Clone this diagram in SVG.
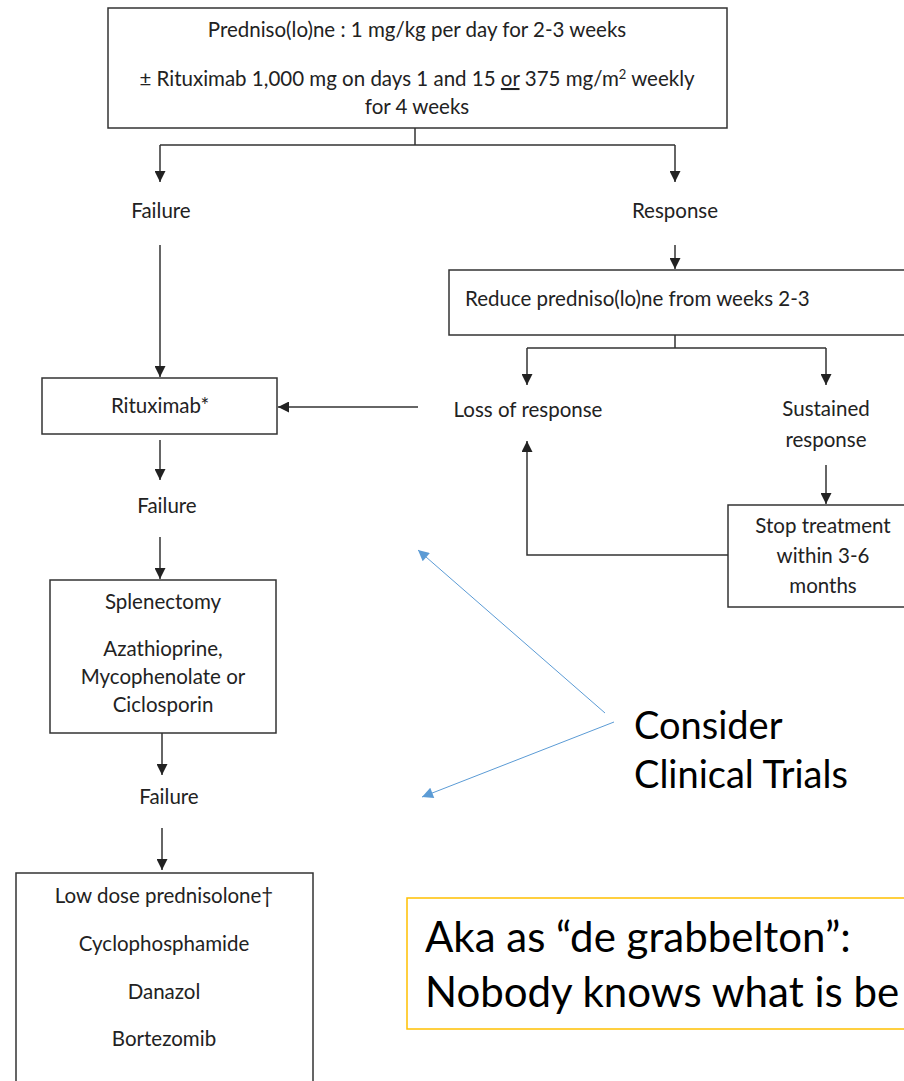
<svg xmlns="http://www.w3.org/2000/svg" width="904" height="1081" viewBox="0 0 904 1081">
<style>
.box{fill:#fff;stroke:#333;stroke-width:1.5}
.t{font-family:Lato,"Open Sans","Liberation Sans",sans-serif;font-size:20.5px;fill:#222;text-anchor:middle}
.tl{font-family:Lato,"Open Sans","Liberation Sans",sans-serif;font-size:20.5px;fill:#222}
.c{fill:none;stroke:#333;stroke-width:1.5}
.b{fill:none;stroke:#5B9BD5;stroke-width:1}
.big{font-family:Lato,"Open Sans","Liberation Sans",sans-serif;font-size:38px;fill:#000}
.note{font-family:Lato,"Open Sans","Liberation Sans",sans-serif;font-size:42px;fill:#000}
</style>
<defs>
<marker id="ah" viewBox="0 0 10 10" refX="10" refY="5" markerWidth="13" markerHeight="11" markerUnits="userSpaceOnUse" orient="auto"><path d="M0,0 L10,5 L0,10 z" fill="#222"/></marker>
<marker id="bh" viewBox="0 0 10 10" refX="10" refY="5" markerWidth="14" markerHeight="11" markerUnits="userSpaceOnUse" orient="auto"><path d="M0,0 L10,5 L0,10 z" fill="#5B9BD5"/></marker>
</defs>
<rect width="904" height="1081" fill="#fff"/>
<g id="connectors">
<path class="c" d="M415,128 V145 M160,145 H675"/>
<path class="c" d="M160,145 V182" marker-end="url(#ah)"/>
<path class="c" d="M675,145 V182" marker-end="url(#ah)"/>
<path class="c" d="M160,245 V377" marker-end="url(#ah)"/>
<path class="c" d="M675,245 V269" marker-end="url(#ah)"/>
<path class="c" d="M675,320 V348 M527,348 H826"/>
<path class="c" d="M527,348 V385" marker-end="url(#ah)"/>
<path class="c" d="M826,348 V385" marker-end="url(#ah)"/>
<path class="c" d="M418,407 H278" marker-end="url(#ah)"/>
<path class="c" d="M160,440 V480" marker-end="url(#ah)"/>
<path class="c" d="M160,537 V579" marker-end="url(#ah)"/>
<path class="c" d="M826,465 V504" marker-end="url(#ah)"/>
<path class="c" d="M728,555 H527 V441" marker-end="url(#ah)"/>
<path class="c" d="M162,733 V775" marker-end="url(#ah)"/>
<path class="c" d="M162,828 V870" marker-end="url(#ah)"/>
<path class="b" d="M605,713 L418,550" marker-end="url(#bh)"/>
<path class="b" d="M614,722 L422,797" marker-end="url(#bh)"/>
</g>
<g id="n-start">
<rect class="box" x="108" y="8" width="619" height="120"/>
<text class="t" x="417" y="37">Predniso(lo)ne : 1 mg/kg per day for 2-3 weeks</text>
<text class="t" x="417" y="86">± Rituximab 1,000 mg on days 1 and 15 <tspan text-decoration="underline">or</tspan> 375 mg/m<tspan font-size="13" dy="-7">2</tspan><tspan dy="7"> weekly</tspan></text>
<text class="t" x="417" y="114">for 4 weeks</text>
</g>
<g id="n-failure1"><text class="t" x="161" y="218">Failure</text></g>
<g id="n-response"><text class="t" x="675" y="218">Response</text></g>
<g id="n-reduce">
<rect class="box" x="449" y="270" width="470" height="65"/>
<text class="tl" x="465" y="306">Reduce predniso(lo)ne from weeks 2-3</text>
</g>
<g id="n-rituximab">
<rect class="box" x="42" y="378" width="235" height="56"/>
<text class="t" x="160" y="413">Rituximab*</text>
</g>
<g id="n-loss"><text class="t" x="528" y="417">Loss of response</text></g>
<g id="n-sustained">
<text class="t" x="826" y="416">Sustained</text>
<text class="t" x="826" y="447">response</text>
</g>
<g id="n-stop">
<rect class="box" x="728" y="505" width="190" height="102"/>
<text class="t" x="823" y="533">Stop treatment</text>
<text class="t" x="823" y="563">within 3-6</text>
<text class="t" x="823" y="593">months</text>
</g>
<g id="n-failure2"><text class="t" x="167" y="513">Failure</text></g>
<g id="n-splenectomy">
<rect class="box" x="50" y="580" width="226" height="153"/>
<text class="t" x="163" y="609">Splenectomy</text>
<text class="t" x="163" y="656">Azathioprine,</text>
<text class="t" x="163" y="684">Mycophenolate or</text>
<text class="t" x="163" y="712">Ciclosporin</text>
</g>
<g id="n-failure3"><text class="t" x="169" y="804">Failure</text></g>
<g id="n-last">
<rect class="box" x="16" y="873" width="297" height="220"/>
<text class="t" x="164" y="903">Low dose prednisolone†</text>
<text class="t" x="164" y="951">Cyclophosphamide</text>
<text class="t" x="164" y="999">Danazol</text>
<text class="t" x="164" y="1046">Bortezomib</text>
</g>
<g id="n-trials">
<text class="big" x="634" y="739">Consider</text>
<text class="big" x="634" y="788">Clinical Trials</text>
</g>
<g id="n-note">
<rect x="407" y="898" width="520" height="131" fill="#fff" stroke="#FFC000" stroke-width="1.5"/>
<text class="note" x="425" y="952">Aka as “de grabbelton”:</text>
<text class="note" x="425" y="1007">Nobody knows what is be</text>
</g>
</svg>
